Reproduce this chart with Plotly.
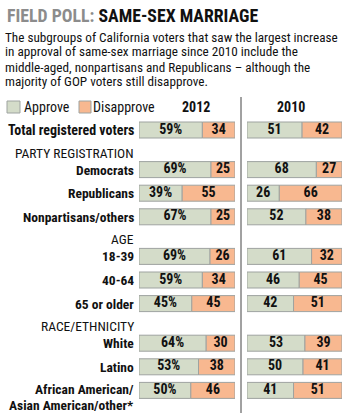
import plotly.graph_objects as go

W, H = 350, 413

groups = ["Total registered voters", "Democrats", "Republicans", "Nonpartisans/others",
          "18-39", "40-64", "65 or older", "White", "Latino",
          "African American/|Asian American/other*"]
sections = [None, "PARTY REGISTRATION", None, None, "AGE", None, None,
            "RACE/ETHNICITY", None, None]
approve_2012 = [59, 69, 39, 67, 69, 59, 45, 64, 53, 50]
disapprove_2012 = [34, 25, 55, 25, 26, 34, 45, 30, 38, 46]
approve_2010 = [51, 68, 26, 52, 61, 46, 42, 53, 50, 41]
disapprove_2010 = [42, 27, 66, 38, 32, 45, 51, 39, 41, 51]
years = ["2012", "2010"]

GREEN = "#d4dcc9"
ORANGE = "#f8b890"
EDGE = "#9ea3a0"
NARROW = "Roboto Condensed, Liberation Sans Narrow, sans-serif"

# row layout (pixel units on the y axis)
y_first, step, header_gap = 130, 23.6, 16
row_y = []
y = y_first
for i, s in enumerate(sections):
    if i > 0:
        y += step
        if s:
            y += header_gap
    row_y.append(y)

fig = go.Figure()

def px(x):
    return x / W

def py(y):
    return 1 - y / H

series = [(approve_2012, disapprove_2012, "x", True),
          (approve_2010, disapprove_2010, "x2", False)]
for appr, dis, xa, pct in series:
    green_len = [100 - d for d in dis]
    fig.add_trace(go.Bar(orientation="h", y=row_y, x=green_len, base=[0] * len(dis),
                         width=16, marker=dict(color=GREEN, line=dict(color=EDGE, width=1)),
                         xaxis=xa, yaxis="y", hoverinfo="skip", showlegend=False))
    fig.add_trace(go.Bar(orientation="h", y=row_y, x=dis, base=green_len,
                         width=16, marker=dict(color=ORANGE, line=dict(color=EDGE, width=1)),
                         xaxis=xa, yaxis="y", hoverinfo="skip", showlegend=False))
    fig.add_trace(go.Scatter(x=[g / 2 for g in green_len], y=row_y, mode="text",
                             text=[f"<b>{a}%</b>" if pct else f"<b>{a}</b>" for a in appr],
                             textfont=dict(family=NARROW, size=14, color="#111"),
                             xaxis=xa, yaxis="y", hoverinfo="skip", showlegend=False))
    fig.add_trace(go.Scatter(x=[g + d / 2 for g, d in zip(green_len, dis)], y=row_y,
                             mode="text", text=[f"<b>{d}</b>" for d in dis],
                             textfont=dict(family=NARROW, size=14, color="#111"),
                             xaxis=xa, yaxis="y", hoverinfo="skip", showlegend=False))

ann = []
def add(x, y, text, size=13, anchor="left", **kw):
    ann.append(dict(x=px(x), y=py(y), xref="paper", yref="paper", xanchor=anchor,
                    yanchor="middle", text=text, showarrow=False,
                    font=dict(family=NARROW, size=size, color="#111"), **kw))

# title
add(5, 15, "<b><span style='color:#8c8c8c'>FIELD POLL:</span> SAME-SEX MARRIAGE</b>", size=17.8)
sub = ["The subgroups of California voters that saw the largest increase",
       "in approval of same-sex marriage since 2010 include the",
       "middle-aged, nonpartisans and Republicans \u2013 although the",
       "majority of GOP voters still disapprove."]
for i, line in enumerate(sub):
    add(3, 37 + 15 * i, line, size=13.2)
# legend
add(22, 107, "Approve", size=14)
add(91, 107, "Disapprove", size=14)
for yr, cx in zip(years, [196, 291]):
    add(cx, 107, f"<b>{yr}</b>", size=14, anchor="center")
# row labels
for i, (g, s, yy) in enumerate(zip(groups, sections, row_y)):
    if s:
        add(136, yy - 17, s, size=13.5, anchor="right")
    parts = g.split("|")
    for k, part in enumerate(parts):
        dy = 0 if len(parts) == 1 else -1.5 + 16.5 * k
        add(136, yy + dy, f"<b>{part}</b>", size=14 if i == 0 else 13.5, anchor="right")

shapes = [
    dict(type="rect", xref="paper", yref="paper", x0=px(7), x1=px(20), y0=py(101), y1=py(113),
         fillcolor=GREEN, line=dict(color=EDGE, width=1)),
    dict(type="rect", xref="paper", yref="paper", x0=px(79), x1=px(91), y0=py(101), y1=py(113),
         fillcolor=ORANGE, line=dict(color=EDGE, width=1)),
    dict(type="line", xref="paper", yref="paper", x0=px(241), x1=px(241), y0=py(97), y1=0,
         line=dict(color="#444", width=1)),
]

fig.update_layout(
    width=W, height=H, margin=dict(l=0, r=0, t=0, b=0),
    paper_bgcolor="white", plot_bgcolor="white", barmode="overlay",
    xaxis=dict(domain=[px(139), px(235)], range=[0, 100], visible=False, fixedrange=True),
    xaxis2=dict(domain=[px(247), px(342)], range=[0, 100], visible=False, fixedrange=True),
    yaxis=dict(domain=[0, 1], range=[H, 0], visible=False, fixedrange=True),
    annotations=ann, shapes=shapes,
)
fig.write_html("out.html", config={"displayModeBar": False})
